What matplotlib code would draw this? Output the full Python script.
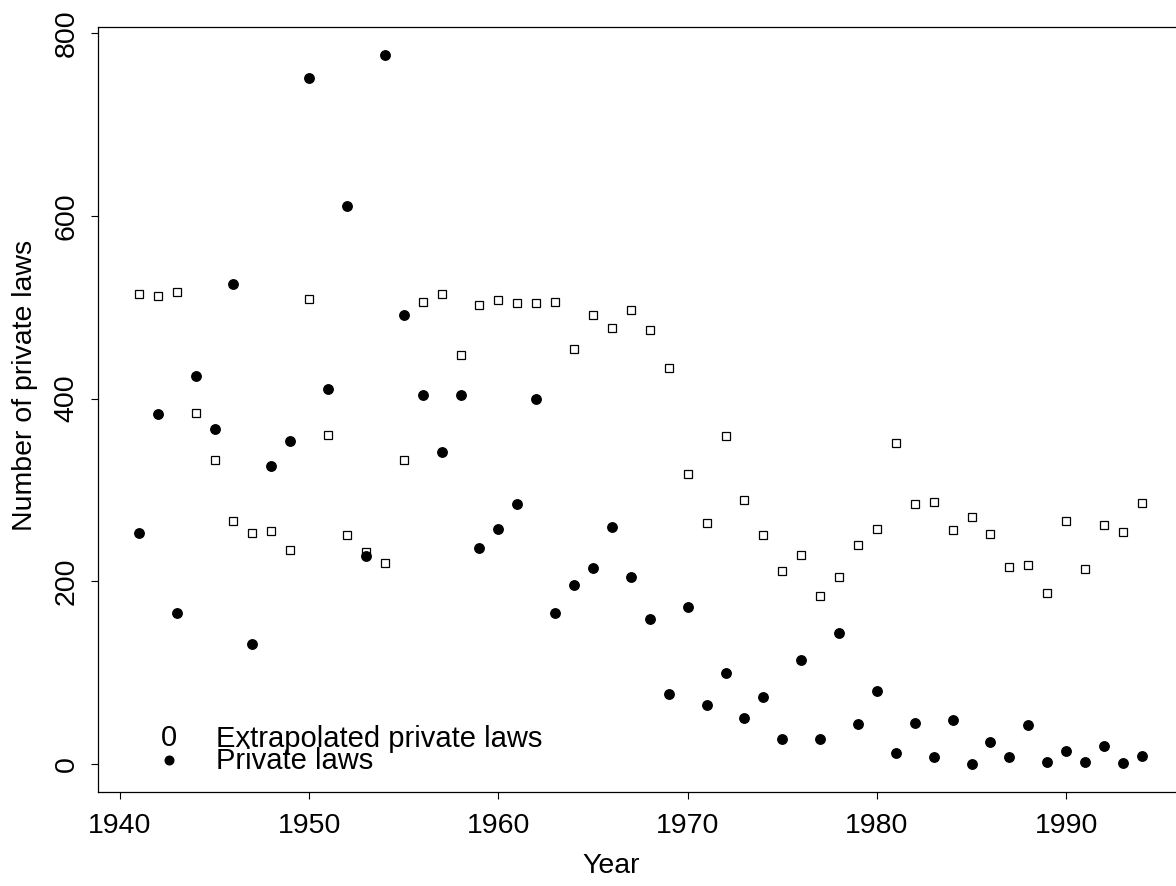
import numpy as np
import matplotlib.pyplot as plt

plt.rcParams['font.family'] = ['Liberation Sans', 'DejaVu Sans']

# ------------------------------------------------------------
# data
# ------------------------------------------------------------
years = np.arange(1941, 1995)

private_laws = [253, 383, 165, 425, 367, 526, 131, 326, 353, 751,
                411, 611, 228, 776, 491, 404, 341, 404, 236, 257,
                285, 400, 165, 196, 214, 259, 205, 159, 76, 172,
                64, 99, 50, 73, 27, 114, 27, 143, 44, 80,
                12, 45, 7, 48, 0, 24, 7, 42, 2, 14,
                2, 19, 1, 8]

extrapolated = [514, 512, 517, 384, 333, 266, 253, 255, 234, 509,
                360, 251, 232, 220, 333, 506, 515, 448, 503, 508,
                505, 505, 506, 454, 492, 477, 497, 475, 433, 317,
                264, 359, 289, 251, 211, 229, 184, 204, 240, 257,
                351, 284, 287, 256, 270, 252, 215, 218, 187, 266,
                213, 262, 254, 286]

legend_labels = ["Extrapolated private laws", "Private laws"]

# ------------------------------------------------------------
# figure (R-like look, plot box runs past the right edge)
# ------------------------------------------------------------
fig = plt.figure(figsize=(11.76, 8.86), dpi=100)
ax = fig.add_axes([0.0833, 0.1061, 0.9218, 0.8634])

ax.plot(years, extrapolated, 's', markersize=6.2, markerfacecolor='white',
        markeredgecolor='black', markeredgewidth=0.9)
ax.plot(years, private_laws, 'o', markersize=6.8, color='black')

# legend as in R: pch 0 printed as a "0"
ax.text(1942.59, 19.7, "0", fontsize=21, ha='center', va='baseline')
ax.plot([1942.59], [4.4], 'o', markersize=6.2, color='black')
ax.text(1945.1, 18.6, legend_labels[0], fontsize=21, ha='left', va='baseline')
ax.text(1945.1, -5.5, legend_labels[1], fontsize=21, ha='left', va='baseline')

ax.set_xlim(1938.84, 1996.12)
ax.set_ylim(-31, 807)
ax.set_xticks([1940, 1950, 1960, 1970, 1980, 1990])
ax.set_yticks([0, 200, 400, 600, 800])
ax.tick_params(direction='out', length=5.2, width=0.8, labelsize=20.5)
ax.tick_params(axis='x', pad=10)
ax.tick_params(axis='y', pad=8)
for lab in ax.get_yticklabels():
    lab.set_rotation(90)
    lab.set_va('center')

for sp in ax.spines.values():
    sp.set_linewidth(0.9)

fig.text(611 / 1176, 1 - 866 / 886, "Year", fontsize=20.5,
         ha='center', va='center')
fig.text(25 / 1176, 1 - 385 / 886, "Number of private laws", fontsize=20.5,
         ha='center', va='center', rotation=90)

fig.savefig("out.png", dpi=100)
